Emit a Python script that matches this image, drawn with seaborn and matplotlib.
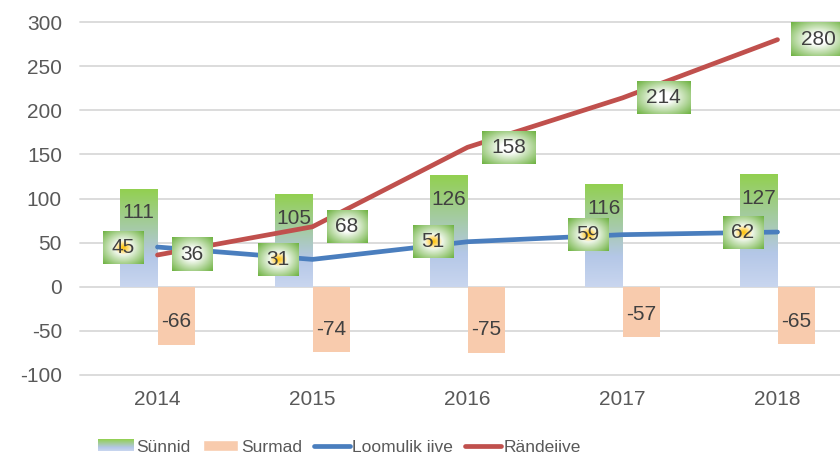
import numpy as np
import pandas as pd
import matplotlib
matplotlib.use("Agg")
import matplotlib.pyplot as plt
import seaborn as sns
from matplotlib.legend_handler import HandlerBase
from matplotlib.image import BboxImage
from matplotlib.transforms import Bbox, TransformedBbox
from matplotlib.lines import Line2D
from matplotlib.patches import Patch
from matplotlib.colors import to_rgb

# ---------------- data ----------------
years = ["2014", "2015", "2016", "2017", "2018"]
sunnid = [111, 105, 126, 116, 127]
surmad = [-66, -74, -75, -57, -65]
loomulik_iive = [45, 31, 51, 59, 62]
randeiive = [36, 68, 158, 214, 280]
series_names = ["Sünnid", "Surmad", "Loomulik iive", "Rändeiive"]
yticks = [-100, -50, 0, 50, 100, 150, 200, 250, 300]

# ---------------- style ----------------
GREEN = to_rgb("#92D050")
BLUE_LIGHT = to_rgb("#B4C7E7")
BLUE_LIGHTER = to_rgb("#C9D6EF")
PEACH = "#F8CBAD"
LINE_BLUE = "#4A7EBE"
LINE_RED = "#C0504D"
TEXT = "#404040"
TICK = "#595959"
GRID = "#D9D9D9"
FONT = ["Liberation Sans", "DejaVu Sans"]

sns.set_theme(style="white")
plt.rcParams["font.family"] = FONT

W, H = 840, 458
fig = plt.figure(figsize=(W / 100, H / 100), dpi=100)
ax_left, ax_right = 80, 840
ax_top, ax_bot = 22, 375
ax = fig.add_axes([ax_left / W, (H - ax_bot) / H, (ax_right - ax_left) / W, (ax_bot - ax_top) / H])

df = pd.DataFrame({
    "year": years * 2,
    "value": sunnid + surmad,
    "series": [series_names[0]] * 5 + [series_names[1]] * 5,
})
sns.barplot(data=df, x="year", y="value", hue="series", order=years,
            hue_order=series_names[:2], palette=[GREEN, PEACH], width=0.484,
            dodge=True, saturation=1, linewidth=0, legend=False, ax=ax, zorder=2)

xpos = np.arange(len(years))
sns.lineplot(x=xpos, y=loomulik_iive, color=LINE_BLUE, linewidth=3.4, ax=ax,
             legend=False, zorder=3, solid_capstyle="round")
sns.lineplot(x=xpos, y=randeiive, color=LINE_RED, linewidth=3.4, ax=ax,
             legend=False, zorder=3, solid_capstyle="round")

XL = (-0.5, -0.5 + (ax_right - ax_left) / 155.0)
YL = (-100, 300)
ax.set_xlim(*XL)
ax.set_ylim(*YL)
ax.set_yticks(yticks)
ax.set_yticklabels([str(t) for t in yticks])
ax.yaxis.grid(True, color=GRID, linewidth=1.3, zorder=0)
ax.set_axisbelow(True)
for s in ax.spines.values():
    s.set_visible(False)
ax.set_xlabel("")
ax.set_ylabel("")
ax.tick_params(axis="y", length=0, pad=13, labelsize=15, labelcolor=TICK)
ax.tick_params(axis="x", length=0, pad=11, labelsize=15, labelcolor=TICK)
for gl in ax.get_ygridlines():
    gl.set_clip_on(False)


# vertical gradient top->bottom: green -> light blue
def vgrad(n=200):
    t = np.linspace(0, 1, n)[:, None]
    c1 = np.array(GREEN)
    c2 = np.array(BLUE_LIGHT)
    c3 = np.array(BLUE_LIGHTER)
    out = np.where(t < 0.7, c1 + (c2 - c1) * (t / 0.7), c2 + (c3 - c2) * ((t - 0.7) / 0.3))
    return out[:, None, :].repeat(2, axis=1)


grad = vgrad()
for p in ax.containers[0]:
    x0, y0 = p.get_x(), p.get_y()
    w, h = p.get_width(), p.get_height()
    ax.imshow(grad, extent=[x0, x0 + w, y0, y0 + h], aspect="auto",
              interpolation="bilinear", origin="upper", zorder=2)
    p.set_facecolor("none")
ax.set_xlim(*XL)
ax.set_ylim(*YL)

# pixel helpers (figure pixels, origin top-left)
fig.canvas.draw()
tr = ax.transData


def to_px(x, y):
    dx, dy = tr.transform((x, y))
    return dx, H - dy


def to_data(px, py):
    return tr.inverted().transform((px, H - py))


def label_box(px0, px1, py0, py1, yellow=False):
    h, w = 60, 80
    yy, xx = np.mgrid[0:h, 0:w]
    ux = (xx + 0.5) / w * 2 - 1
    uy = (yy + 0.5) / h * 2 - 1
    d = np.sqrt(ux ** 2 + uy ** 2) / np.sqrt(2)
    g = np.array(to_rgb("#6AB03C"))
    white = np.ones(3)
    t = np.clip((d - 0.22) / 0.78, 0, 1)[..., None] ** 1.0
    img = white + (g - white) * t
    if yellow:
        yel = np.array(to_rgb("#FFC000"))
        ty = np.clip(1 - d / 0.3, 0, 1)[..., None] ** 0.8
        img = img + (yel - img) * ty
    (x0, y1d) = to_data(px0, py1)
    (x1, y0d) = to_data(px1, py0)
    ax.imshow(img, extent=[x0, x1, y1d, y0d], aspect="auto", origin="upper",
              interpolation="bilinear", zorder=4, clip_on=False)


LABEL_FS = 15
BOX_H = 33

# Loomulik iive labels (left of point)
for i, v in enumerate(loomulik_iive):
    px, py = to_px(i, v)
    bw = 41 if len(str(v)) <= 2 else 54
    label_box(px - 14 - bw, px - 14, py - BOX_H / 2, py + BOX_H / 2, yellow=True)
    cx, cy = to_data(px - 14 - bw / 2, py)
    ax.text(cx, cy, str(v), ha="center", va="center", fontsize=LABEL_FS, color=TEXT, zorder=5)

# Rändeiive labels (right of point)
for i, v in enumerate(randeiive):
    px, py = to_px(i, v)
    bw = 41 if len(str(v)) <= 2 else 54
    label_box(px + 14, px + 14 + bw, py - BOX_H / 2, py + BOX_H / 2)
    cx, cy = to_data(px + 14 + bw / 2, py)
    ax.text(cx, cy, str(v), ha="center", va="center", fontsize=LABEL_FS, color=TEXT,
            zorder=5, clip_on=False)

# bar labels (inside end)
for p, v in zip(ax.containers[0], sunnid):
    cxp = p.get_x() + p.get_width() / 2
    px, py = to_px(cxp, v)
    _, cy = to_data(px, py + 24)
    ax.text(cxp, cy, str(v), ha="center", va="center", fontsize=LABEL_FS, color=TEXT, zorder=5)
for p, v in zip(ax.containers[1], surmad):
    cxp = p.get_x() + p.get_width() / 2
    px, py = to_px(cxp, v)
    _, cy = to_data(px, py - 23)
    ax.text(cxp, cy, str(v), ha="center", va="center", fontsize=LABEL_FS, color=TEXT, zorder=5)

ax.set_xlim(*XL)
ax.set_ylim(*YL)


# ---------------- legend ----------------
class GradHandler(HandlerBase):
    def create_artists(self, legend, orig_handle, xdescent, ydescent, width, height, fontsize, trans):
        bb = Bbox.from_bounds(-xdescent, -ydescent, width, height)
        tbb = TransformedBbox(bb, trans)
        img = BboxImage(tbb, interpolation="bilinear")
        img.set_data(vgrad(50))
        return [img]


handles = [
    Patch(facecolor=GREEN, label=series_names[0]),
    Patch(facecolor=PEACH, label=series_names[1]),
    Line2D([], [], color=LINE_BLUE, linewidth=3.4, solid_capstyle="round", label=series_names[2]),
    Line2D([], [], color=LINE_RED, linewidth=3.4, solid_capstyle="round", label=series_names[3]),
]
leg = fig.legend(handles=handles, labels=series_names, loc="center left",
                 bbox_to_anchor=(98 / W, 1 - 447 / H), ncol=4, frameon=False,
                 borderpad=0, borderaxespad=0,
                 handlelength=2.05, handleheight=0.6, handletextpad=0.15,
                 columnspacing=0.7, handler_map={handles[0]: GradHandler()},
                 prop={"family": FONT, "size": 12.5})
for t in leg.get_texts():
    t.set_color(TICK)

fig.savefig("out.png", dpi=100)
